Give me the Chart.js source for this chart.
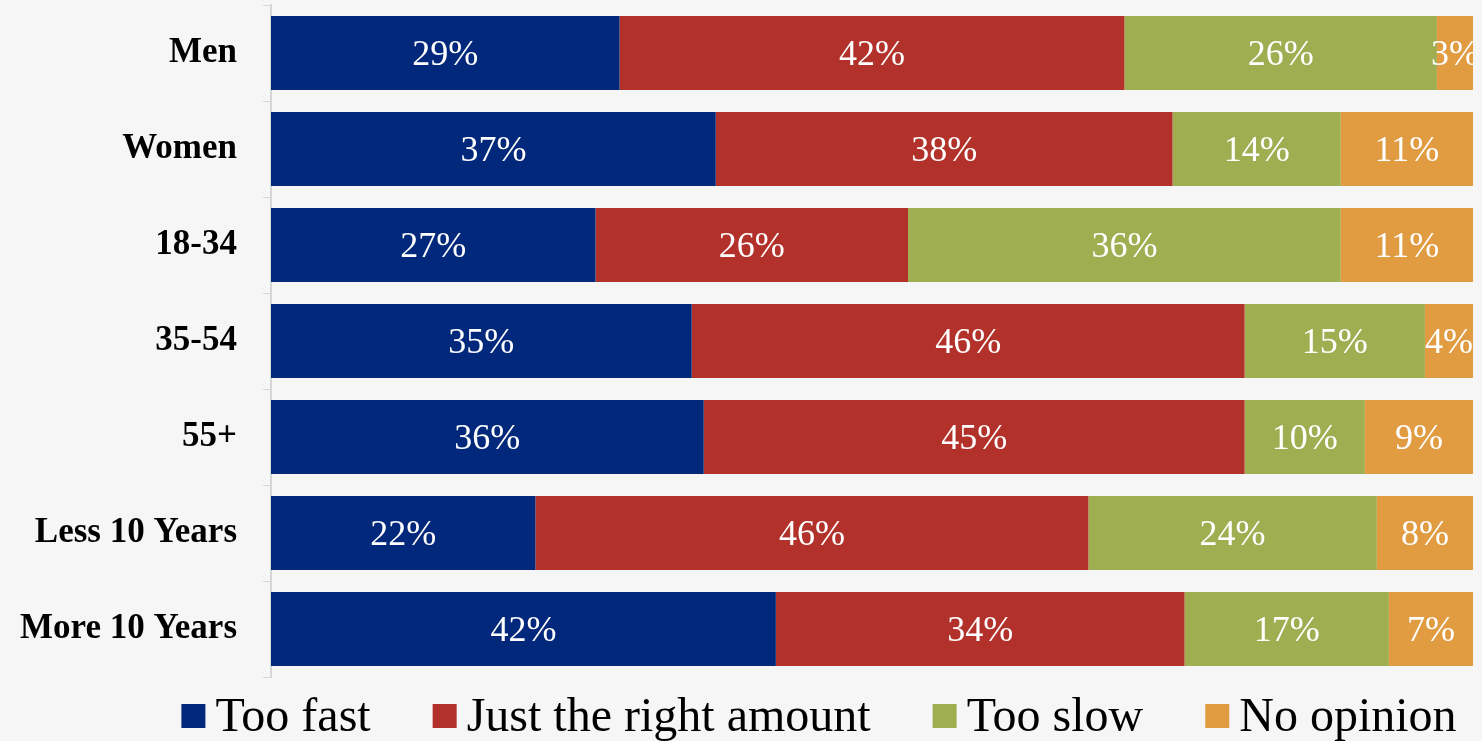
<!DOCTYPE html>
<html lang="en">
<head>
    <meta charset="UTF-8">
    <title>Opinion by group</title>
    <style>
        body { margin: 0; background: #f6f6f6; }
        #wrap { width: 1482px; height: 741px; position: relative; }
    </style>
</head>
<body>
    <div id="wrap">
        <canvas id="myChart"></canvas>
    </div>
    <script src="https://cdn.jsdelivr.net/npm/chart.js"></script>
    <script>
        const categories = ['Men', 'Women', '18-34', '35-54', '55+', 'Less 10 Years', 'More 10 Years'];
        const seriesNames = ['Too fast', 'Just the right amount', 'Too slow', 'No opinion'];
        const tooFast = [29, 37, 27, 35, 36, 22, 42];
        const justRight = [42, 38, 26, 46, 45, 46, 34];
        const tooSlow = [26, 14, 36, 15, 10, 24, 17];
        const noOpinion = [3, 11, 11, 4, 9, 8, 7];
        const colors = ['#01287a', '#b2312a', '#a0ae52', '#e19c42'];

        const serif = "'Liberation Serif', 'Times New Roman', serif";

        // white % labels in the middle of each segment, clipped to the plot
        const valueLabels = {
            id: 'valueLabels',
            afterDatasetsDraw(chart) {
                const ctx = chart.ctx;
                const area = chart.chartArea;
                ctx.save();
                ctx.beginPath();
                ctx.rect(area.left, area.top, area.right - area.left, area.bottom - area.top);
                ctx.clip();
                ctx.fillStyle = '#ffffff';
                ctx.font = '36px ' + serif;
                ctx.textAlign = 'center';
                ctx.textBaseline = 'middle';
                chart.data.datasets.forEach((ds, i) => {
                    chart.getDatasetMeta(i).data.forEach((bar, j) => {
                        const x = (bar.x + bar.base) / 2;
                        ctx.fillText(ds.data[j] + '%', x, bar.y + 3);
                    });
                });
                ctx.restore();
            }
        };

        // legend row under the plot
        const bottomLegend = {
            id: 'bottomLegend',
            afterDraw(chart) {
                const ctx = chart.ctx;
                const box = 24, gap = 10, spacing = 62;
                ctx.save();
                ctx.font = '48px ' + serif;
                ctx.textBaseline = 'alphabetic';
                const widths = chart.data.datasets.map(ds => box + gap + ctx.measureText(ds.label).width);
                const total = widths.reduce((a, b) => a + b, 0) + spacing * (widths.length - 1);
                let x = 819 - total / 2;
                chart.data.datasets.forEach((ds, i) => {
                    ctx.fillStyle = ds.backgroundColor;
                    ctx.fillRect(x, 704, box, box);
                    ctx.fillStyle = '#000000';
                    ctx.fillText(ds.label, x + box + gap, 731);
                    x += widths[i] + spacing;
                });
                ctx.restore();
            }
        };

        const ctx = document.getElementById('myChart').getContext('2d');
        new Chart(ctx, {
            type: 'bar',
            data: {
                labels: categories,
                datasets: [tooFast, justRight, tooSlow, noOpinion].map((vals, i) => ({
                    label: seriesNames[i],
                    data: vals,
                    backgroundColor: colors[i],
                    borderWidth: 0,
                    barPercentage: 0.77,
                    categoryPercentage: 1
                }))
            },
            options: {
                indexAxis: 'y',
                responsive: true,
                maintainAspectRatio: false,
                animation: false,
                layout: { padding: { top: 5, bottom: 64, left: 0, right: 9 } },
                scales: {
                    x: {
                        stacked: true,
                        min: 0,
                        max: 100,
                        display: false
                    },
                    y: {
                        stacked: true,
                        afterFit: (scale) => {
                            scale.width = 271;
                            scale.paddingTop = 0;
                            scale.paddingBottom = 0;
                        },
                        grid: {
                            offset: true,
                            drawOnChartArea: false,
                            drawTicks: true,
                            tickLength: 8,
                            color: '#d6d6d6'
                        },
                        border: { display: true, color: '#d6d6d6', width: 2 },
                        ticks: {
                            color: '#000000',
                            padding: 26,
                            font: { family: serif, size: 35, weight: 'bold' }
                        }
                    }
                },
                plugins: {
                    legend: { display: false },
                    tooltip: { enabled: false }
                }
            },
            plugins: [valueLabels, bottomLegend]
        });
    </script>
</body>
</html>
